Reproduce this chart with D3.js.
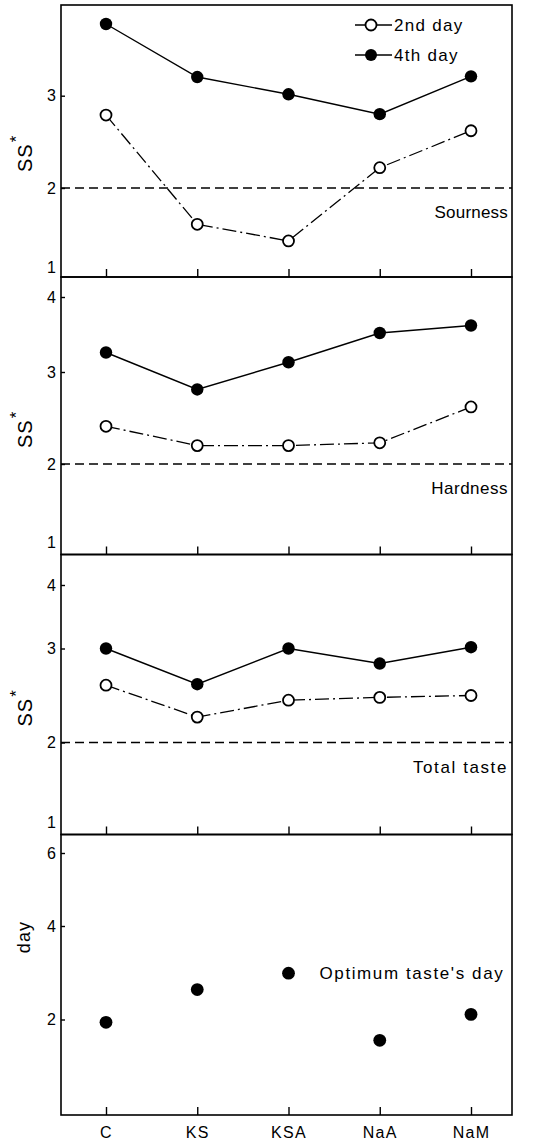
<!DOCTYPE html>
<html>
<head>
<meta charset="utf-8">
<script src="https://cdn.jsdelivr.net/npm/d3@7"></script>
<style>
body { margin: 0; background: #fff; }
svg text { font-family: "Liberation Sans", Arial, Helvetica, sans-serif; fill: #000; }
</style>
</head>
<body>
<div id="chart"></div>
<script>
// values
var categories   = ["C", "KS", "KSA", "NaA", "NaM"];
var sourness_2nd = [2.79, 1.54, 1.33, 2.22, 2.62];
var sourness_4th = [4.00, 3.26, 3.02, 2.80, 3.27];
var hardness_2nd = [2.41, 2.20, 2.20, 2.23, 2.62];
var hardness_4th = [3.26, 2.81, 3.13, 3.52, 3.62];
var total_2nd    = [2.61, 2.27, 2.45, 2.48, 2.50];
var total_4th    = [3.00, 2.62, 3.00, 2.84, 3.02];
var optimum_day  = [1.94, 2.64, 2.99, 1.56, 2.11];
var ss_domain    = [1, 2, 3, 4];
var day_domain   = [0, 2, 4, 6];
var ss_reference = 2;
var series_names = ["2nd day", "4th day"];

var width = 536, height = 1144;
var left = 61, right = 512;

// the printed axes are not evenly spaced, so each panel keeps its own tick positions
var panels = [
    { top: 5,   bottom: 277, label: "Sourness",    d2: sourness_2nd, d4: sourness_4th,
      ticks: [1, 2, 3],    range: [267, 188, 95.7, 24], ls: 0.2 },
    { top: 277, bottom: 554.5, label: "Hardness",  d2: hardness_2nd, d4: hardness_4th,
      ticks: [1, 2, 3, 4], range: [542, 464, 372, 297], ls: 0.5 },
    { top: 554.5, bottom: 834.5, label: "Total taste", d2: total_2nd, d4: total_4th,
      ticks: [1, 2, 3, 4], range: [822, 742.5, 648.5, 585], ls: 1.6 }
];

var svg = d3.select("#chart")
    .append("svg")
    .attr("width", width)
    .attr("height", height);

var x = d3.scalePoint()
    .domain(categories)
    .range([106, 471]);

function frame(top, bottom, showLabels) {
    svg.append("rect")
        .attr("x", left)
        .attr("y", top)
        .attr("width", right - left)
        .attr("height", bottom - top)
        .attr("fill", "none")
        .attr("stroke", "#000")
        .attr("stroke-width", 1.6);

    var ax = svg.append("g")
        .attr("transform", "translate(0," + bottom + ")")
        .call(d3.axisBottom(x)
            .tickSizeInner(-8)
            .tickSizeOuter(0)
            .tickPadding(12)
            .tickFormat(showLabels ? null : function() { return ""; }));
    ax.select(".domain").remove();
    ax.selectAll("line").attr("stroke-width", 1.4);
    ax.selectAll("text")
        .attr("font-size", 16)
        .attr("letter-spacing", 1.3)
        .attr("font-family", null);
}

function yAxis(y, ticks) {
    var ay = svg.append("g")
        .attr("transform", "translate(" + left + ",0)")
        .call(d3.axisLeft(y)
            .tickValues(ticks)
            .tickFormat(d3.format("d"))
            .tickSizeInner(-4)
            .tickSizeOuter(0)
            .tickPadding(5));
    ay.select(".domain").remove();
    ay.selectAll(".tick").filter(function(d) { return d === 1; }).select("line").remove();
    ay.selectAll("line").attr("stroke-width", 1.4);
    ay.selectAll("text")
        .attr("font-size", 16)
        .attr("font-family", null);
}

panels.forEach(function(p) {
    var y = d3.scaleLinear().domain(ss_domain).range(p.range);

    frame(p.top, p.bottom, false);
    yAxis(y, p.ticks);

    // reference line at SS = 2
    svg.append("line")
        .attr("x1", left)
        .attr("x2", right)
        .attr("y1", y(ss_reference))
        .attr("y2", y(ss_reference))
        .attr("stroke", "#000")
        .attr("stroke-width", 1.3)
        .attr("stroke-dasharray", "9,5");

    svg.append("text")
        .attr("x", right - 4)
        .attr("y", y(ss_reference) + 30)
        .attr("text-anchor", "end")
        .attr("font-size", 17)
        .attr("letter-spacing", p.ls)
        .text(p.label);

    var title = svg.append("text")
        .attr("transform", "translate(32," + (y(ss_reference) - 16) + ") rotate(-90)")
        .attr("font-size", 20)
        .attr("letter-spacing", 1);
    title.append("tspan").text("SS");
    title.append("tspan").attr("dx", 1).attr("dy", -10).attr("font-size", 17).text("*");

    var line = function(vals) {
        return d3.line()
            .x(function(d, i) { return x(categories[i]); })
            .y(function(d) { return y(d); })(vals);
    };

    svg.append("path")
        .attr("d", line(p.d2))
        .attr("fill", "none")
        .attr("stroke", "#000")
        .attr("stroke-width", 1.3)
        .attr("stroke-dasharray", "14,4,2,4");

    svg.append("path")
        .attr("d", line(p.d4))
        .attr("fill", "none")
        .attr("stroke", "#000")
        .attr("stroke-width", 1.4);

    svg.append("g").selectAll("circle")
        .data(p.d2)
        .enter().append("circle")
        .attr("cx", function(d, i) { return x(categories[i]); })
        .attr("cy", function(d) { return y(d); })
        .attr("r", 5.5)
        .attr("fill", "#fff")
        .attr("stroke", "#000")
        .attr("stroke-width", 1.8);

    svg.append("g").selectAll("circle")
        .data(p.d4)
        .enter().append("circle")
        .attr("cx", function(d, i) { return x(categories[i]); })
        .attr("cy", function(d) { return y(d); })
        .attr("r", 6.2)
        .attr("fill", "#000");
});

// legend (top panel)
series_names.forEach(function(name, i) {
    var ly = 25 + i * 30;
    svg.append("line")
        .attr("x1", 355).attr("x2", 392)
        .attr("y1", ly).attr("y2", ly)
        .attr("stroke", "#000")
        .attr("stroke-width", 1.4);
    svg.append("circle")
        .attr("cx", 371).attr("cy", ly)
        .attr("r", i === 0 ? 5.5 : 6)
        .attr("fill", i === 0 ? "#fff" : "#000")
        .attr("stroke", "#000")
        .attr("stroke-width", i === 0 ? 1.8 : 0);
    svg.append("text")
        .attr("x", 394)
        .attr("y", ly + 6)
        .attr("font-size", 17)
        .attr("letter-spacing", 1.3)
        .text(name);
});

// bottom panel: optimum taste's day
var yd = d3.scaleLinear().domain(day_domain).range([1114, 1019.5, 926, 853]);
frame(834.5, 1115, true);
yAxis(yd, [2, 4, 6]);

svg.append("text")
    .attr("transform", "translate(30," + (yd(4) + 11) + ") rotate(-90)")
    .attr("text-anchor", "middle")
    .attr("font-size", 18)
    .attr("letter-spacing", 1.2)
    .text("day");

svg.append("g").selectAll("circle")
    .data(optimum_day)
    .enter().append("circle")
    .attr("cx", function(d, i) { return x(categories[i]); })
    .attr("cy", function(d) { return yd(d); })
    .attr("r", 6.4)
    .attr("fill", "#000");

// the KSA point doubles as the legend marker
svg.append("text")
    .attr("x", x("KSA") + 31)
    .attr("y", yd(optimum_day[2]) + 6)
    .attr("font-size", 17)
    .attr("letter-spacing", 1.6)
    .text("Optimum taste's day");
</script>
</body>
</html>
